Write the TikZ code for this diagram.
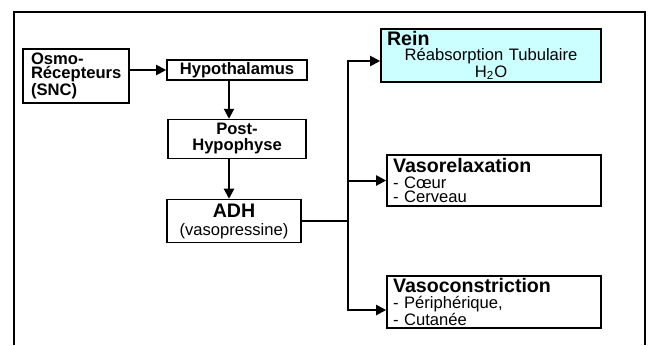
\documentclass[tikz,border=0pt]{standalone}
\usepackage{fontspec}
\setmainfont{Liberation Sans}
\usetikzlibrary{arrows.meta}
\definecolor{reinfond}{RGB}{204,255,255}
\tikzset{
  boite/.style={draw, line width=0.8pt, inner sep=2pt, font=\fontsize{8.3}{8}\selectfont\bfseries},
  cadre/.style={draw, line width=0.8pt, inner xsep=3pt, inner ysep=1pt, align=left,
                font=\fontsize{8.3}{7}\selectfont},
  trait/.style={line width=1pt},
  fleche/.style={line width=1pt, -{Triangle[length=5pt, width=5pt]}}
}
\newcommand{\titre}[1]{{\fontsize{9.8}{10}\selectfont\bfseries #1}}
\begin{document}
\begin{tikzpicture}[x=0.5pt, y=-0.5pt]
    \useasboundingbox (0,0) rectangle (651,345);
    % cadre ouvert en bas
    \draw[line width=1pt] (14,345) -- (14,12) -- (645,12) -- (645,345);

    % colonne de gauche
    \node[boite, align=left, text width=45pt, inner xsep=4pt, minimum height=26pt,
          font=\fontsize{8.3}{7}\selectfont\bfseries] (osmo) at (76,76)
        {Osmo-\\Récepteurs\\(SNC)};
    \node[boite, minimum width=70pt, minimum height=10pt, inner sep=0pt] (hypo) at (237,70) {Hypothalamus};
    \node[boite, align=center, minimum width=69pt, minimum height=19pt] (post) at (237,139)
        {Post-\\Hypophyse};
    \node[boite, align=center, minimum width=67pt, minimum height=20pt,
          font=\fontsize{8.3}{9}\selectfont] (adh) at (234,221)
        {\titre{ADH}\\(vasopressine)};

    % effets
    \node[cadre, fill=reinfond, text width=104pt, minimum height=26.5pt, align=center] (rein) at (491,55.5)
        {\makebox[\linewidth][l]{\titre{Rein}}\\[0.5pt]Réabsorption Tubulaire\\H\textsubscript{2}O};
    \node[cadre, text width=101pt, minimum height=25.5pt] (rel) at (494,180.5)
        {\titre{Vasorelaxation}\\[0.8pt]- Cœur\\- Cerveau};
    \node[cadre, text width=101pt, minimum height=26pt] (con) at (494,302)
        {\titre{Vasoconstriction}\\[0.8pt]- Périphérique,\\- Cutanée};

    % fleches de gauche
    \draw[fleche] (osmo.east |- hypo.west) -- (hypo.west);
    \coordinate (tige) at ([xshift=-4pt]hypo.south);
    \draw[fleche] (tige) -- (tige |- post.north);
    \draw[fleche] (tige |- post.south) -- (tige |- adh.north);

    % embranchement vers les effets
    \coordinate (embr) at (348,219);
    \draw[trait] (adh.east) -- (adh.east -| embr);
    \draw[fleche] (adh.east -| embr) |- ([yshift=-2.75pt]rein.west);
    \draw[fleche] (adh.east -| embr) |- (rel.west);
    \draw[fleche] (adh.east -| embr) |- ([yshift=-4pt]con.west);
\end{tikzpicture}
\end{document}
